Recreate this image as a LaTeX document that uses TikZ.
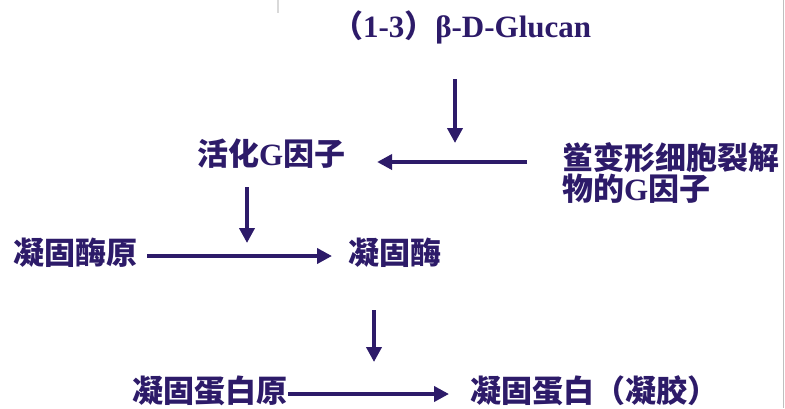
\documentclass[tikz,border=0pt]{standalone}
\usepackage{fontspec}
\setmainfont{Liberation Serif}
\newfontfamily\cjk{Noto Sans CJK SC}
\usetikzlibrary{arrows.meta}
\definecolor{navy}{RGB}{45,27,105}
\begin{document}
\begin{tikzpicture}[x=1pt,y=-1pt,
  lbl/.style={inner sep=0pt, outer sep=0pt, text=navy, anchor=west,
    font=\fontsize{31}{31}\selectfont\bfseries},
  arr/.style={draw=navy, line width=4pt, -{Triangle[width=15pt,length=15pt]}}]
\useasboundingbox (0,0) rectangle (785,408);
\fill[white] (0,0) rectangle (785,408);
\draw[black!25, line width=1.5pt] (783.5,0) -- (783.5,408);
\draw[black!15, line width=2pt] (278,0) -- (278,13);

\node[lbl] (glucan) at (332,27) {{\cjk （}1-3{\cjk ）}β-D-Glucan};
\node[lbl] (actg) at (197,154) {{\cjk 活化}G{\cjk 因子}};
\node[lbl, align=left] (limulus) at (562,173.5) {{\cjk 鲎变形细胞裂解}\\{\cjk 物的}G{\cjk 因子}};
\node[lbl] (prog) at (13,253) {\cjk 凝固酶原};
\node[lbl] (clot) at (348,253) {\cjk 凝固酶};
\node[lbl] (fibr) at (132,391) {\cjk 凝固蛋白原};
\node[lbl] (fib) at (470,391) {\cjk 凝固蛋白（凝胶）};

\coordinate (a1s) at (455,79);
\coordinate (a1e) at (455,143);
\coordinate (j2) at (455,162);
\coordinate (a3s) at (247,187);
\coordinate (a3e) at (247,243);
\coordinate (a5s) at (374,310);
\coordinate (a5e) at (374,362);

\draw[arr] (a1s) -- (a1e);
\draw[arr, shorten >=32pt] ([xshift=-35pt]limulus.west |- j2) -- (actg.east |- j2);
\draw[arr] (a3s) -- (a3e);
\draw[arr, shorten <=10pt, shorten >=16pt] ([yshift=-3pt]prog.east) -- ([yshift=-3pt]clot.west);
\draw[arr] (a5s) -- (a5e);
\draw[arr, shorten <=1pt, shorten >=21pt] ([yshift=-3pt]fibr.east) -- ([yshift=-3pt]fib.west);
\end{tikzpicture}
\end{document}
